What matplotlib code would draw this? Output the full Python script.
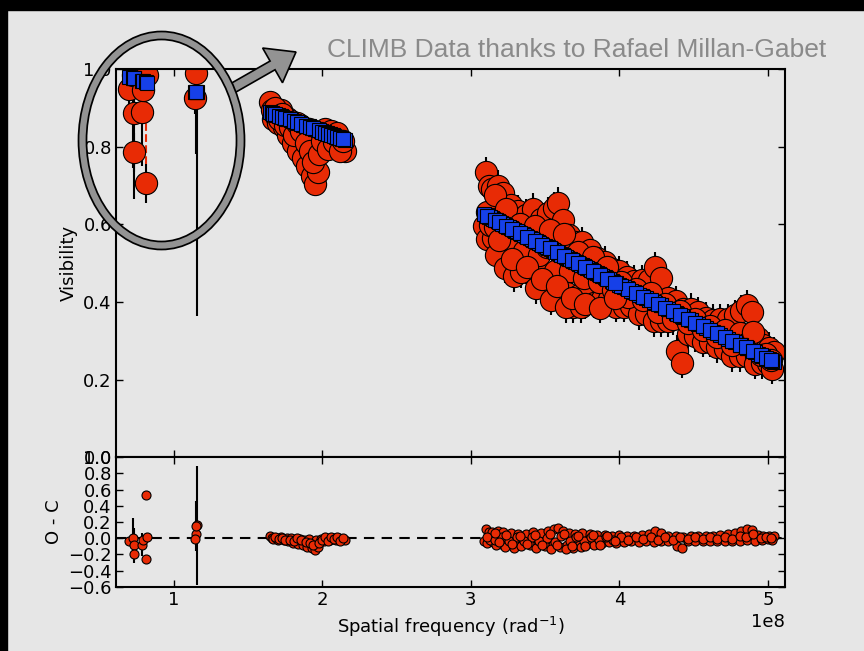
import numpy as np
import matplotlib
matplotlib.use("Agg")
import matplotlib.pyplot as plt
import matplotlib.patheffects as pe
from matplotlib.patches import Ellipse, FancyArrow, Rectangle
from matplotlib.ticker import MultipleLocator

#spatial frequency is in units of 1e8 rad^-1
#short baselines (inside the circled region)
freq_short = [0.700, 0.726, 0.733, 0.733, 0.790, 0.792, 0.816, 0.823,
              1.150, 1.141, 1.160, 1.152]
vis_short = [0.949, 0.985, 0.886, 0.786, 0.889, 0.946, 0.706, 0.985,
             0.990, 0.925, 1.100, 1.090]
err_short = [0.05, 0.24, 0.22, 0.05, 0.14, 0.05, 0.05, 0.05,
             0.04, 0.04, 0.735, 0.31]
model_short = [0.979, 0.977, 0.976, 0.976, 0.969, 0.969, 0.966, 0.965,
               0.941, 0.941, 0.940, 0.940]

#point that falls off the top of the visibility panel
freq_off = [0.816]
vis_off = [1.506]
err_off = [0.75]
model_off = [0.966]

#intermediate baselines
freq_mid = [1.65, 1.66, 1.67, 1.69, 1.70, 1.72, 1.74, 1.76, 1.77, 1.79,
            1.80, 1.82, 1.84, 1.85, 1.87, 1.88, 1.90, 1.91, 1.93, 1.95,
            1.96, 1.97, 1.99, 2.01, 2.03, 2.05, 2.07, 2.09, 2.11, 2.13, 2.15,
            1.68, 1.71, 1.73, 1.75, 1.78, 1.81, 1.83, 1.86, 1.89, 1.92,
            1.94, 1.98, 2.00, 2.02, 2.04, 2.06, 2.08, 2.10, 2.12, 2.14]
vis_mid = [0.915, 0.895, 0.870, 0.880, 0.860, 0.895, 0.850, 0.875, 0.830, 0.865,
           0.810, 0.845, 0.790, 0.855, 0.770, 0.830, 0.750, 0.845, 0.725, 0.705,
           0.820, 0.735, 0.835, 0.800, 0.830, 0.810, 0.825, 0.800, 0.820, 0.805, 0.790,
           0.900, 0.870, 0.885, 0.855, 0.850, 0.830, 0.860, 0.840, 0.810, 0.790,
           0.760, 0.780, 0.815, 0.845, 0.795, 0.840, 0.812, 0.835, 0.790, 0.815]
model_mid = [0.888, 0.887, 0.885, 0.882, 0.881, 0.878, 0.875, 0.872, 0.871, 0.868,
             0.867, 0.864, 0.861, 0.860, 0.857, 0.856, 0.853, 0.852, 0.849, 0.846,
             0.845, 0.843, 0.840, 0.837, 0.835, 0.832, 0.829, 0.826, 0.823, 0.820, 0.818,
             0.883, 0.879, 0.877, 0.874, 0.870, 0.866, 0.863, 0.859, 0.854, 0.850,
             0.848, 0.842, 0.839, 0.836, 0.833, 0.831, 0.828, 0.825, 0.822, 0.819]
err_mid = 0.02

#long baselines
freq_long = [3.10, 3.12, 3.14, 3.18, 3.22, 3.27, 3.32, 3.37, 3.42, 3.47,
             3.52, 3.56, 3.59, 3.62, 3.66, 3.70, 3.75, 3.80, 3.85, 3.90,
             3.95, 4.00, 4.05, 4.10, 4.15, 4.20, 4.24, 4.28, 4.33, 4.38,
             4.43, 4.48, 4.53, 4.58, 4.63, 4.68, 4.73, 4.78, 4.82, 4.86,
             4.89, 4.93, 4.97, 5.01, 5.04,
             3.09, 3.11, 3.15, 3.20, 3.25, 3.30, 3.35, 3.40, 3.45, 3.50,
             3.55, 3.60, 3.65, 3.69, 3.73, 3.78, 3.83, 3.88, 3.93, 3.98,
             4.03, 4.08, 4.13, 4.18, 4.23, 4.28, 4.33, 4.39, 4.42, 4.46,
             4.51, 4.56, 4.61, 4.66, 4.71, 4.76, 4.81, 4.86, 4.91, 4.96,
             5.00, 5.03,
             3.13, 3.17, 3.23, 3.29, 3.34, 3.44, 3.54, 3.64, 3.74,
             3.11, 3.16, 3.21, 3.26, 3.31, 3.36, 3.41, 3.46, 3.51, 3.57,
             3.61, 3.67, 3.71, 3.76, 3.81, 3.86, 3.91, 3.96, 4.01, 4.06,
             4.11, 4.16, 4.21, 4.26, 4.31, 4.36, 4.41, 4.46, 4.51, 4.56,
             4.61, 4.66, 4.71, 4.76, 4.81, 4.85, 4.90, 4.95, 4.99, 5.02,
             3.16, 3.19, 3.24, 3.28, 3.33, 3.38, 3.43, 3.48, 3.53, 3.58,
             3.63, 3.68, 3.72, 3.77, 3.82, 3.87, 3.92, 3.97]
vis_long = [0.734, 0.700, 0.690, 0.700, 0.680, 0.650, 0.635, 0.625, 0.640, 0.615,
            0.630, 0.642, 0.656, 0.610, 0.572, 0.554, 0.554, 0.534, 0.514, 0.504,
            0.484, 0.479, 0.465, 0.455, 0.456, 0.456, 0.490, 0.461, 0.411, 0.402,
            0.382, 0.383, 0.373, 0.359, 0.354, 0.355, 0.355, 0.366, 0.378, 0.391,
            0.375, 0.307, 0.290, 0.282, 0.271,
            0.596, 0.562, 0.564, 0.534, 0.534, 0.504, 0.514, 0.474, 0.484, 0.444,
            0.454, 0.414, 0.424, 0.386, 0.418, 0.418, 0.398, 0.408, 0.408, 0.388,
            0.388, 0.389, 0.369, 0.370, 0.350, 0.351, 0.351, 0.275, 0.244, 0.317,
            0.312, 0.298, 0.298, 0.284, 0.279, 0.260, 0.260, 0.261, 0.241, 0.242,
            0.244, 0.228,
            0.598, 0.520, 0.488, 0.466, 0.476, 0.436, 0.406, 0.386, 0.386,
            0.632, 0.592, 0.622, 0.562, 0.592, 0.532, 0.582, 0.522, 0.542, 0.480,
            0.552, 0.480, 0.512, 0.462, 0.502, 0.452, 0.472, 0.432, 0.452, 0.413,
            0.433, 0.404, 0.424, 0.375, 0.395, 0.356, 0.376, 0.347, 0.357, 0.328,
            0.338, 0.309, 0.329, 0.290, 0.320, 0.293, 0.323, 0.264, 0.266, 0.250,
            0.675, 0.560, 0.640, 0.510, 0.600, 0.490, 0.595, 0.460, 0.585, 0.440,
            0.575, 0.410, 0.530, 0.395, 0.515, 0.385, 0.490, 0.410]
model_long = [0.624, 0.620, 0.616, 0.608, 0.600, 0.590, 0.580, 0.570, 0.560, 0.550,
              0.540, 0.532, 0.526, 0.520, 0.512, 0.504, 0.494, 0.484, 0.474, 0.464,
              0.454, 0.444, 0.435, 0.425, 0.416, 0.406, 0.398, 0.391, 0.381, 0.372,
              0.362, 0.353, 0.343, 0.334, 0.324, 0.315, 0.305, 0.296, 0.288, 0.281,
              0.275, 0.267, 0.260, 0.252, 0.246,
              0.626, 0.622, 0.614, 0.604, 0.594, 0.584, 0.574, 0.564, 0.554, 0.544,
              0.534, 0.524, 0.514, 0.506, 0.498, 0.488, 0.478, 0.468, 0.458, 0.448,
              0.438, 0.429, 0.419, 0.410, 0.400, 0.391, 0.381, 0.370, 0.364, 0.357,
              0.347, 0.338, 0.328, 0.319, 0.309, 0.300, 0.290, 0.281, 0.271, 0.262,
              0.254, 0.248,
              0.618, 0.610, 0.598, 0.586, 0.576, 0.556, 0.536, 0.516, 0.496,
              0.622, 0.612, 0.602, 0.592, 0.582, 0.572, 0.562, 0.552, 0.542, 0.530,
              0.522, 0.510, 0.502, 0.492, 0.482, 0.472, 0.462, 0.452, 0.442, 0.433,
              0.423, 0.414, 0.404, 0.395, 0.385, 0.376, 0.366, 0.357, 0.347, 0.338,
              0.328, 0.319, 0.309, 0.300, 0.290, 0.283, 0.273, 0.264, 0.256, 0.250,
              0.612, 0.606, 0.596, 0.588, 0.578, 0.568, 0.558, 0.548, 0.538, 0.528,
              0.518, 0.508, 0.500, 0.490, 0.480, 0.470, 0.460, 0.450]
err_long = 0.04

#colours
BG = "#e6e6e6"
RED = "#e82b05"
BLUE = "#1640e8"
GREY = "#939393"

plt.rcParams["font.family"] = "DejaVu Sans"
plt.rcParams["font.size"] = 13

#combining the groups
x = np.concatenate([freq_short, freq_mid, freq_long]) * 1e8
v = np.concatenate([vis_short, vis_mid, vis_long])
m = np.concatenate([model_short, model_mid, model_long])
e = np.concatenate([err_short, np.full(len(freq_mid), err_mid), np.full(len(freq_long), err_long)])
resid = v - m

xo = np.array(freq_off) * 1e8
vo = np.array(vis_off)
eo = np.array(err_off)
ro = vo - np.array(model_off)

fig = plt.figure(figsize=(8.64, 6.51), dpi=100, facecolor=BG)
ax1 = fig.add_axes([0.1343, 0.2975, 0.7743, 0.5965], facecolor=BG)
ax2 = fig.add_axes([0.1343, 0.0988, 0.7743, 0.1987], facecolor=BG, sharex=ax1)

#visibility panel
ax1.vlines(xo, vo - eo, vo + eo, colors=RED, linestyles="--", lw=1.5, zorder=1)
ax1.errorbar(x, v, yerr=e, fmt="o", ms=16, mfc=RED, mec="k", mew=0.8,
             ecolor="k", elinewidth=1.5, capsize=0, zorder=2)
ax1.plot(x, m, "s", ms=10.5, mfc=BLUE, mec="k", mew=0.8, zorder=3)
ax1.set_ylim(0, 1)
ax1.set_xlim(0.612e8, 5.115e8)
ax1.set_ylabel("Visibility")
ax1.tick_params(labelbottom=False)

#residual panel
ax2.axhline(0, color="k", lw=1.5, ls="--", dashes=(5, 3.5), zorder=1)
ax2.errorbar(x, resid, yerr=e, fmt="o", ms=6.5, mfc=RED, mec="k", mew=0.8,
             ecolor="k", elinewidth=1.5, capsize=0, zorder=2)
ax2.plot(xo, ro, "o", ms=6.5, mfc=RED, mec="k", mew=0.8, zorder=2)
ax2.set_ylim(-0.6, 1.0)
ax2.yaxis.set_major_locator(MultipleLocator(0.2))
ax2.set_ylabel("O - C")
ax2.set_xlabel("Spatial frequency (rad$^{-1}$)")

for ax in (ax1, ax2):
    for s in ax.spines.values():
        s.set_linewidth(1.5)
    ax.tick_params(direction="in", top=True, right=True, length=5, width=1, pad=3)

#slide decorations
fig.add_artist(Rectangle((0, 0), 7 / 864, 1, transform=fig.transFigure, color="k", zorder=10))
fig.add_artist(Rectangle((0, 1 - 10 / 651), 1, 10 / 651, transform=fig.transFigure, color="k", zorder=10))

fig.add_artist(FancyArrow(2.33, 5.63, 0.63, 0.36, width=0.10, head_width=0.40, head_length=0.27,
                          length_includes_head=True, fc=GREY, ec="k", lw=1.2,
                          transform=fig.dpi_scale_trans, zorder=8))
fig.add_artist(Ellipse((1.615, 5.105), 1.58, 2.10, fill=False, ec=GREY, lw=4.5,
                       transform=fig.dpi_scale_trans, zorder=9,
                       path_effects=[pe.Stroke(linewidth=7.0, foreground="k"), pe.Normal()]))

fig.text(327 / 864, 594 / 651, "CLIMB Data thanks to Rafael Millan-Gabet", fontsize=19,
         color="#8a8a8a", family="Liberation Sans", ha="left", va="baseline")

fig.savefig("out.png", dpi=100, facecolor=BG)
